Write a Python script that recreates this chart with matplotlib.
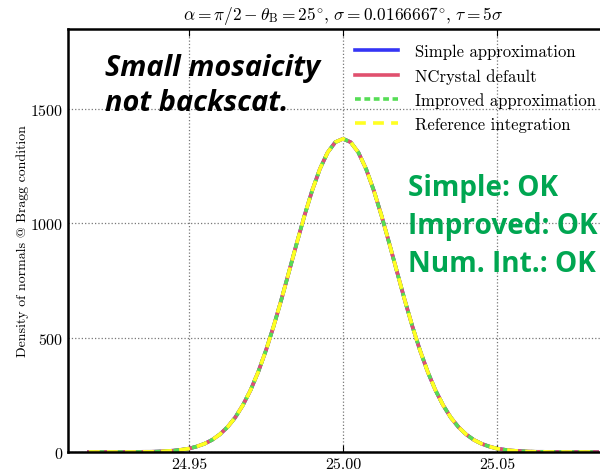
import numpy as np
import matplotlib
matplotlib.use("Agg")
import matplotlib.pyplot as plt

plt.rcParams['mathtext.fontset'] = 'cm'
plt.rcParams['font.family'] = ['cmr10', 'DejaVu Serif']
plt.rcParams['axes.formatter.use_mathtext'] = True

# angle grid (deg) and density of normals read per curve
angle = [24.9175 + 0.0025 * i for i in range(67)]
half = [1370, 1355, 1310, 1238, 1144, 1034, 914, 790, 667, 551, 445, 351,
        271, 205, 151, 109, 77, 53, 36, 24, 15, 10, 6, 4, 2, 1, 1, 0, 0, 0,
        0, 0, 0, 0]
density = half[:0:-1] + half

series = [
    ("Simple approximation", "#3535f5", "-", 2.6),
    ("NCrystal default", "#e0506e", "-", 2.6),
    ("Improved approximation", "#55dd55", (0, (1.6, 1.0)), 2.6),
    ("Reference integration", "#ffff22", (0, (3, 2)), 2.6),
]

fig = plt.figure(figsize=(6, 4.77), dpi=100)
ax = fig.add_axes([0.1133, 0.0503, 0.9167, 0.8868])

for name, col, ls, lw in series:
    ax.plot(angle, density, color=col, ls=ls, lw=lw, label=name)

ax.set_xlim(24.9107, 25.0893)
ax.set_ylim(0, 1850)
ax.set_xticks([24.95, 25.00, 25.05])
ax.set_xticklabels(["24.95", "25.00", "25.05"])
ax.set_yticks([0, 500, 1000, 1500])
ax.grid(True, ls=':', color='#777777', lw=0.9)
for s in ax.spines.values():
    s.set_linewidth(1.8)
ax.tick_params(axis='both', labelsize=11.5, direction='in', top=True,
               right=False, length=5, width=0.8)
ax.tick_params(axis='y', length=0)

ax.set_title(r"$\alpha=\pi/2-\theta_{\rm B}=25^{\circ},\,\sigma=0.0166667^{\circ},\,\tau=5\sigma$",
             fontsize=12.5, pad=7)
ax.set_ylabel("Density of normals @ Bragg condition", fontsize=10)
ax.yaxis.set_label_coords(-0.07, 0.5)
ax.set_xlabel(r"$(\theta$ of normal rel. to $\vec{k}$) [deg]", fontsize=11.5, labelpad=4)

ax.legend(loc='upper left', bbox_to_anchor=(0.494, 1.0), frameon=False,
          fontsize=12, handlelength=2.6, handletextpad=1.0, labelspacing=0.52)

fig.text(0.175, 0.82, "Small mosaicity\nnot backscat.", fontsize=20.8,
         fontweight='bold', fontstyle='italic', family='Open Sans',
         ha='left', va='center', linespacing=1.3)
fig.text(0.68, 0.525, "Simple: OK\nImproved: OK\nNum. Int.: OK", fontsize=20.2,
         fontweight='bold', family='Open Sans', color='#00a651',
         ha='left', va='center', linespacing=1.42)

fig.savefig("out.png", dpi=100)
